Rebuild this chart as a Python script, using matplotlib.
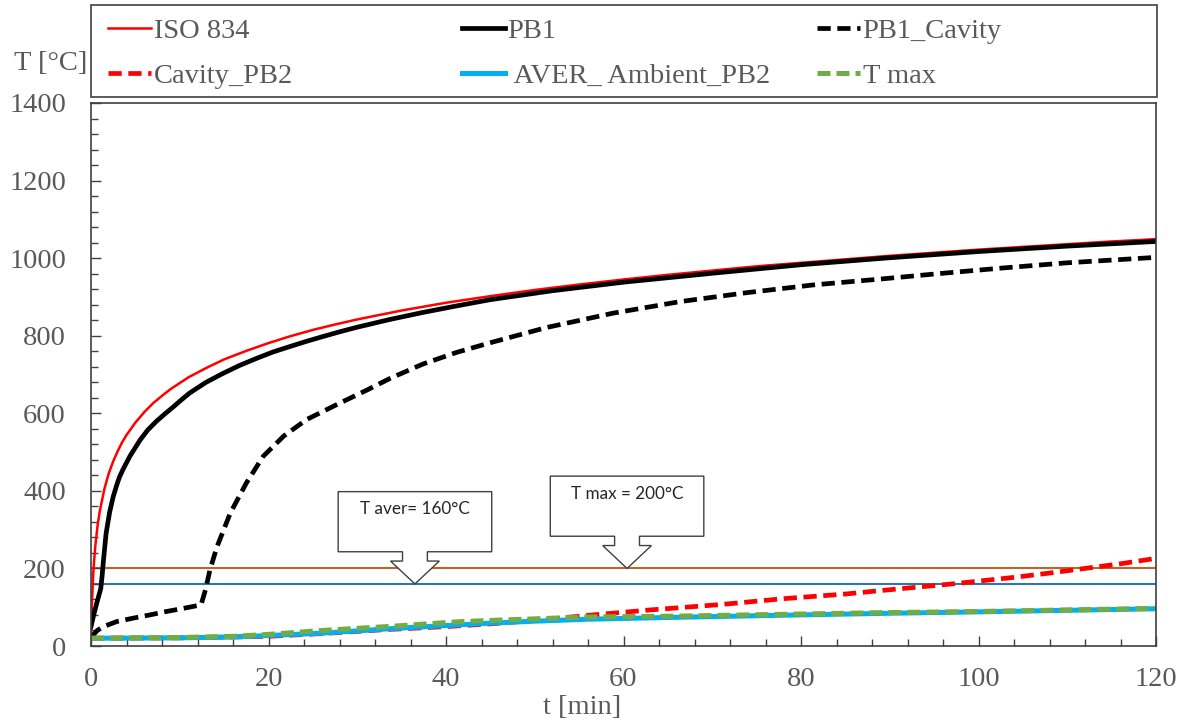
import matplotlib.pyplot as plt
from matplotlib.patches import Polygon, Rectangle
from matplotlib.ticker import MultipleLocator

# ISO 834 standard fire curve
t_iso = [0, 0.1, 0.25, 0.35, 0.5, 0.75, 1, 1.5, 2, 2.5, 3, 3.5, 4, 5, 6, 7, 8, 9, 10,
         11, 12, 13, 15, 17.5, 20, 22.5, 25, 27.5, 30, 35, 40, 45, 50, 55, 60, 65, 70,
         75, 80, 85, 90, 95, 100, 105, 110, 115, 120]
T_iso = [20, 108, 185, 220, 261, 312, 349, 404, 445, 476, 502, 525, 544, 576, 603,
         626, 645, 663, 678, 693, 705, 717, 739, 761, 781, 799, 815, 829, 842, 865,
         885, 902, 918, 932, 945, 957, 968, 979, 988, 997, 1006, 1014, 1022, 1029,
         1036, 1043, 1049]

# PB1 furnace
t_pb1 = [0, 0.3, 0.7, 1.1, 1.25, 1.4, 1.7, 2.1, 2.5, 2.9, 3.2, 3.6, 4.4, 5.5, 6.4,
         7.4, 8.3, 9.3, 10.2, 11.1, 12.9, 14.8, 16.7, 18.7, 20.5, 22.4, 24.2, 26, 28,
         30, 33.7, 37.4, 41, 45, 52, 60, 70, 80, 90, 100, 110, 120]
T_pb1 = [50, 80, 115, 148, 180, 220, 290, 345, 385, 415, 435, 455, 490, 530, 557,
         580, 598, 617, 635, 652, 679, 702, 723, 742, 758, 772, 785, 797, 810, 822,
         842, 860, 876, 893, 916, 938, 961, 983, 1001, 1017, 1031, 1043]

# PB1 cavity
t_pb1_cav = [0, 0.7, 1.4, 2.9, 4.8, 6.6, 8.5, 10.4, 12.4, 12.9, 13.4, 14.2, 15.7,
             17.5, 19.4, 21.7, 24.3, 28.1, 31.1, 33.7, 37.4, 41.2, 45, 51.3, 58.8,
             66.4, 73.9, 81.4, 88.9, 95, 102.4, 110, 120]
T_pb1_cav = [22, 40, 50, 63, 72, 80, 89, 97, 106, 145, 196, 256, 343, 420, 489, 541,
             584, 627, 660, 690, 727, 757, 782, 821, 858, 888, 911, 931, 946, 959,
             974, 988, 1002]

# PB2 cavity
t_cav_pb2 = [0, 10, 20, 26, 33, 40, 45, 50, 56, 63, 71, 78, 85, 89, 97, 104, 108,
             112, 116, 120]
T_cav_pb2 = [20, 21, 25, 32, 42, 50, 57, 66, 79, 93, 107, 122, 134, 143, 160, 177,
             188, 200, 212, 226]

# PB2 unexposed side
t_amb = [0, 10, 16, 20, 26, 34, 45, 50, 56, 66, 75, 89, 100, 110, 120]
T_amb = [20, 21, 23, 27, 33, 45, 59, 64, 69, 74, 78, 84, 88, 92, 96]

t_tmax = [0, 10, 16, 20, 26, 34, 41, 45, 56, 66, 71, 89, 100, 110, 120]
T_tmax = [20, 22, 25, 30, 40, 51, 62, 66, 75, 77, 79, 86, 89, 93, 97]

# insulation criteria
crit_T = [200, 160]
crit_colors = ['#C0652A', '#2E75B6']
crit_text = ['T max = 200°C', 'T aver= 160°C']
crit_t = [60.4, 36.5]

W, H = 1197, 724
plt.rcParams['font.family'] = ['Liberation Serif', 'DejaVu Serif']
gray = '#595959'
edge = '#404040'

fig = plt.figure(figsize=(W / 100, H / 100), dpi=100)
ax = fig.add_axes([91 / W, 1 - 646 / H, (1156 - 91) / W, (646 - 103) / H])

l_iso, = ax.plot(t_iso, T_iso, color='#FF0000', lw=1.8, label='ISO 834')
l_pb1, = ax.plot(t_pb1, T_pb1, color='black', lw=3.4, label='PB1')
l_cav1, = ax.plot(t_pb1_cav, T_pb1_cav, color='black', lw=3.4, dashes=(2.8, 1.4),
                  label='PB1_Cavity')
l_cav2, = ax.plot(t_cav_pb2, T_cav_pb2, color='#FF0000', lw=3.4, dashes=(2.8, 1.4),
                  label='Cavity_PB2')
l_amb, = ax.plot(t_amb, T_amb, color='#00B0F0', lw=3.6, label=' AVER_ Ambient_PB2')
l_tmax, = ax.plot(t_tmax, T_tmax, color='#70AD47', lw=3.6, dashes=(2.6, 1.2),
                  label='T max')

for val, c in zip(crit_T, crit_colors):
    ax.axhline(val, color=c, lw=1.5, zorder=1.5)


def callout(ax, t_tip, T_tip, text):
    hb, hn, hh = 8.65, 1.4, 2.75
    y1 = T_tip + 59
    y2 = y1 + 24
    y3 = y2 + 155
    pts = [(t_tip, T_tip), (t_tip + hh, y1), (t_tip + hn, y1), (t_tip + hn, y2),
           (t_tip + hb, y2), (t_tip + hb, y3), (t_tip - hb, y3), (t_tip - hb, y2),
           (t_tip - hn, y2), (t_tip - hn, y1), (t_tip - hh, y1)]
    ax.add_patch(Polygon(pts, closed=True, fc='white', ec=edge, lw=1.0, zorder=5))
    ax.text(t_tip, y3 - 45, text, ha='center', va='center', family='Lato',
            fontsize=12.3, color='#262626', zorder=6)


for t0, T0, txt in zip(crit_t, crit_T, crit_text):
    callout(ax, t0, T0, txt)

ax.set_xlim(0, 120)
ax.set_ylim(0, 1400)
ax.xaxis.set_major_locator(MultipleLocator(20))
ax.xaxis.set_minor_locator(MultipleLocator(4))
ax.yaxis.set_major_locator(MultipleLocator(200))
ax.yaxis.set_minor_locator(MultipleLocator(40))
ax.tick_params(which='both', direction='in', color=edge, width=1, top=False, right=False)
ax.tick_params(which='major', length=7, labelsize=20.5, labelcolor=gray)
ax.tick_params(which='minor', length=5)
ax.tick_params(axis='x', pad=15)
ax.tick_params(axis='y', pad=18)
for s in ax.spines.values():
    s.set_color(edge)
    s.set_linewidth(1.2)

fig.text(87 / W, 1 - 64 / H, 'T [°C]', ha='right', va='center', fontsize=20.5, color=gray)
fig.text(582 / W, 1 - 708 / H, 't [min]', ha='center', va='center', fontsize=20.5,
         color=gray)

# legend: three equal columns inside one frame above the plot
fig.add_artist(Rectangle((91 / W, 1 - 97 / H), (1157 - 91) / W, 92 / H,
                         transform=fig.transFigure, fc='white', ec=edge, lw=1.2))
columns = [[l_iso, l_cav2], [l_pb1, l_amb], [l_cav1, l_tmax]]
col_x = [108, 462, 817]
for handles, x in zip(columns, col_x):
    fig.legend(handles=handles, loc='center left', bbox_to_anchor=(x / W, 1 - 53.5 / H),
               frameon=False, borderpad=0, borderaxespad=0, fontsize=20.5,
               handlelength=1.5, handletextpad=0.1, labelspacing=0.64,
               labelcolor=gray)

fig.savefig('out.png', dpi=100)
